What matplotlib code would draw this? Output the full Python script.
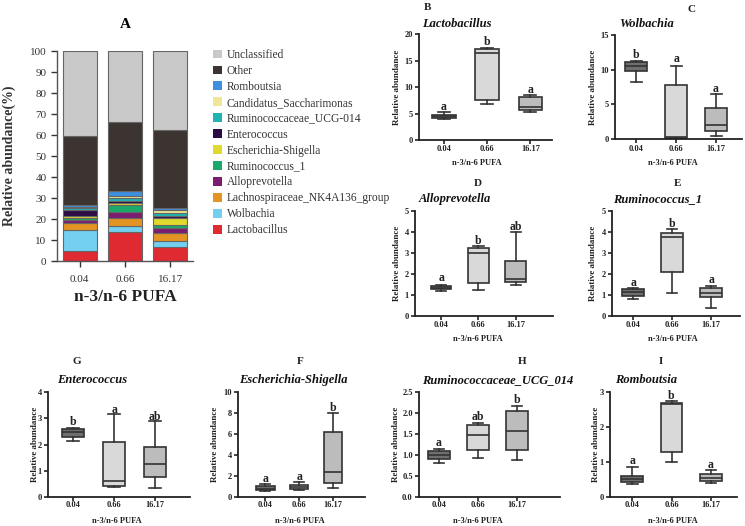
import matplotlib
matplotlib.use('Agg')
import matplotlib.pyplot as plt
from matplotlib.patches import Patch

plt.rcParams['font.family'] = ['Liberation Serif', 'DejaVu Serif']

W, H = 745, 526
fig = plt.figure(figsize=(W / 100, H / 100), dpi=100)

# ---------------- Panel A data (relative abundance, %) ----------------
groups = ['0.04', '0.66', '16.17']
lactobacillus = [4.8, 14.0, 6.8]
wolbachia = [10.0, 2.7, 2.7]
lachnospiraceae = [3.4, 3.9, 4.0]
alloprevotella = [1.4, 2.9, 2.4]
ruminococcus_1 = [1.0, 3.2, 1.2]
escherichia = [0.7, 0.9, 3.2]
enterococcus = [3.0, 1.1, 1.3]
ruminococcaceae_ucg = [0.8, 1.5, 1.4]
candidatus = [0.8, 0.9, 1.3]
romboutsia = [0.6, 2.2, 0.8]
other = [32.8, 32.7, 37.4]
unclassified = [40.7, 34.0, 37.5]

taxa_names = ['Lactobacillus', 'Wolbachia', 'Lachnospiraceae_NK4A136_group',
              'Alloprevotella', 'Ruminococcus_1', 'Escherichia-Shigella',
              'Enterococcus', 'Ruminococcaceae_UCG-014', 'Candidatus_Saccharimonas',
              'Romboutsia', 'Other', 'Unclassified']
taxa_values = [lactobacillus, wolbachia, lachnospiraceae, alloprevotella,
               ruminococcus_1, escherichia, enterococcus, ruminococcaceae_ucg,
               candidatus, romboutsia, other, unclassified]
taxa_colors = ['#e02a32', '#74d0f0', '#e39424', '#7b1c70', '#1aa968', '#e0d92e',
               '#2a0c47', '#1fb3b3', '#efe795', '#3d8fe0', '#3b3431', '#c9c9c9']

# ---------------- Box panel data: whislo, q1, median, q3, whishi ----------------
box_panels = [
    dict(letter='B', title='Lactobacillus', ylim=(0, 20), yticks=[0, 5, 10, 15, 20],
         whislo=[3.9, 6.75, 5.2], q1=[4.2, 7.6, 5.7], med=[4.5, 16.4, 6.3],
         q3=[4.8, 17.15, 8.1], whishi=[5.2, 17.3, 8.5],
         sig=['a', 'b', 'a'], sig_y=[6.2, 18.4, 9.5],
         rect=(419, 552, 34, 140), xlim=(0.42, 3.5),
         letter_xy=(428, 8), title_xy=(457, 24), ylab_x=397, xt_y=149, xl_y=163, xl_x=477),
    dict(letter='C', title='Wolbachia', ylim=(0, 15), yticks=[0, 5, 10, 15],
         whislo=[8.25, 0.05, 0.4], q1=[9.8, 0.12, 1.2], med=[10.55, 0.22, 2.05],
         q3=[11.1, 7.8, 4.45], whishi=[11.3, 10.6, 6.45],
         sig=['b', 'a', 'a'], sig_y=[12.1, 11.5, 7.2],
         rect=(615, 742, 35, 139), xlim=(0.47, 3.65),
         letter_xy=(692, 9), title_xy=(647, 24), ylab_x=593, xt_y=149, xl_y=163, xl_x=673),
    dict(letter='D', title='Alloprevotella', ylim=(0, 5), yticks=[0, 1, 2, 3, 4, 5],
         whislo=[1.17, 1.22, 1.47], q1=[1.27, 1.58, 1.61], med=[1.34, 3.0, 1.77],
         q3=[1.42, 3.26, 2.6], whishi=[1.5, 3.32, 4.0],
         sig=['a', 'b', 'ab'], sig_y=[1.8, 3.58, 4.24],
         rect=(415, 553, 211, 316), xlim=(0.3, 4.0),
         letter_xy=(478, 183), title_xy=(455, 199), ylab_x=397, xt_y=325, xl_y=339, xl_x=478),
    dict(letter='E', title='Ruminococcus_1', ylim=(0, 5), yticks=[0, 1, 2, 3, 4, 5],
         whislo=[0.81, 1.08, 0.37], q1=[0.95, 2.08, 0.9], med=[1.16, 3.78, 1.11],
         q3=[1.27, 3.94, 1.32], whishi=[1.32, 4.16, 1.43],
         sig=['a', 'b', 'a'], sig_y=[1.55, 4.4, 1.7],
         rect=(612, 740, 211, 316), xlim=(0.46, 3.74),
         letter_xy=(678, 183), title_xy=(658, 199), ylab_x=593, xt_y=325, xl_y=339, xl_x=673),
    dict(letter='G', title='Enterococcus', ylim=(0, 4), yticks=[0, 1, 2, 3, 4],
         whislo=[2.13, 0.37, 0.36], q1=[2.3, 0.41, 0.76], med=[2.46, 0.6, 1.27],
         q3=[2.6, 2.1, 1.9], whishi=[2.64, 3.16, 2.88],
         sig=['b', 'a', 'ab'], sig_y=[2.86, 3.33, 3.05],
         rect=(48, 190, 392, 497), xlim=(0.39, 3.85),
         letter_xy=(77, 362), title_xy=(92, 380), ylab_x=35, xt_y=505, xl_y=521, xl_x=117),
    dict(letter='F', title='Escherichia-Shigella', ylim=(0, 10), yticks=[0, 2, 4, 6, 8, 10],
         whislo=[0.57, 0.64, 0.86], q1=[0.64, 0.76, 1.37], med=[0.8, 0.92, 2.39],
         q3=[1.05, 1.18, 6.18], whishi=[1.24, 1.4, 7.96],
         sig=['a', 'a', 'b'], sig_y=[1.75, 1.9, 8.44],
         rect=(238, 365, 392, 497), xlim=(0.2, 3.94),
         letter_xy=(300, 362), title_xy=(293, 380), ylab_x=215, xt_y=505, xl_y=521, xl_x=300),
    dict(letter='H', title='Ruminococcaceae_UCG_014', ylim=(0, 2.5),
         yticks=[0.0, 0.5, 1.0, 1.5, 2.0, 2.5],
         whislo=[0.82, 0.93, 0.87], q1=[0.91, 1.11, 1.13], med=[1.0, 1.47, 1.57],
         q3=[1.09, 1.72, 2.05], whishi=[1.15, 1.77, 2.17],
         sig=['a', 'ab', 'b'], sig_y=[1.29, 1.9, 2.3],
         rect=(419, 560, 392, 497), xlim=(0.49, 4.1),
         letter_xy=(522, 362), title_xy=(498, 380), ylab_x=396, xt_y=505, xl_y=521, xl_x=478),
    dict(letter='I', title='Romboutsia', ylim=(0, 3), yticks=[0, 1, 2, 3],
         whislo=[0.38, 0.99, 0.4], q1=[0.44, 1.3, 0.45], med=[0.52, 2.66, 0.55],
         q3=[0.6, 2.68, 0.65], whishi=[0.87, 2.74, 0.76],
         sig=['a', 'b', 'a'], sig_y=[1.04, 2.89, 0.9],
         rect=(610, 737, 392, 497), xlim=(0.44, 3.66),
         letter_xy=(661, 362), title_xy=(646, 380), ylab_x=596, xt_y=505, xl_y=521, xl_x=673),
]
box_colors = ['#6f6f6f', '#d9d9d9', '#bcbcbc']


def fx(x):
    return x / W


def fy(y):
    return 1 - y / H


def add_ax(l, r, t, b):
    return fig.add_axes([fx(l), fy(b), (r - l) / W, (b - t) / H])


# ---------------- Panel A ----------------
axA = add_ax(57, 193, 51, 261)
bottom = [0.0, 0.0, 0.0]
xpos = list(range(len(groups)))
for name, vals, col in zip(taxa_names, taxa_values, taxa_colors):
    axA.bar(xpos, vals, width=0.75, bottom=bottom, color=col,
            edgecolor='#666666', linewidth=0.8)
    bottom = [b + v for b, v in zip(bottom, vals)]
axA.set_xlim(-0.5, 2.5)
axA.set_ylim(0, 100)
axA.set_yticks(range(0, 101, 10))
axA.set_xticks(xpos)
axA.set_xticklabels(groups)
for s in ['top', 'right']:
    axA.spines[s].set_visible(False)
for s in ['left', 'bottom']:
    axA.spines[s].set_color('#555555')
    axA.spines[s].set_linewidth(1.0)
axA.tick_params(axis='both', labelsize=8, colors='#333333', length=4, width=1.0,
                direction='out')
axA.tick_params(axis='x', pad=6)
fig.text(fx(125), fy(25), 'A', ha='center', va='center', fontsize=11, fontweight='bold')
fig.text(fx(9), fy(156), 'Relative abundance(%)', rotation=90, ha='center', va='center',
         fontsize=10, fontweight='bold', color='#333333')
fig.text(fx(125), fy(297), 'n-3/n-6 PUFA', ha='center', va='center',
         fontsize=12.5, fontweight='bold', color='#222222')

handles = [Patch(facecolor=c, edgecolor='none') for c in taxa_colors]
labels = list(taxa_names)
leg = fig.legend(handles[::-1], labels[::-1], loc='upper left',
                 bbox_to_anchor=(fx(213), fy(49)), frameon=False, fontsize=8.3,
                 handlelength=0.8, handleheight=0.8, handletextpad=0.4,
                 labelspacing=0.34, borderpad=0, borderaxespad=0)
for t in leg.get_texts():
    t.set_color('#333333')

# ---------------- Box panels ----------------
for p in box_panels:
    l, r, t, b = p['rect']
    ax = add_ax(l, r, t, b)
    stats = []
    for i in range(3):
        stats.append(dict(whislo=p['whislo'][i], q1=p['q1'][i], med=p['med'][i],
                          q3=p['q3'][i], whishi=p['whishi'][i], fliers=[]))
    bp = ax.bxp(stats, positions=[1, 2, 3], widths=0.55, patch_artist=True,
                showfliers=False,
                boxprops=dict(edgecolor='#333333', linewidth=1.2),
                medianprops=dict(color='#333333', linewidth=1.2),
                whiskerprops=dict(color='#333333', linewidth=1.2),
                capprops=dict(color='#333333', linewidth=1.2))
    for patch, c in zip(bp['boxes'], box_colors):
        patch.set_facecolor(c)
    for i in range(3):
        ax.text(i + 1, p['sig_y'][i], p['sig'][i], ha='center', va='center',
                fontsize=8.5, fontweight='bold', color='#222222')
    ax.set_xlim(*p['xlim'])
    ax.set_ylim(*p['ylim'])
    ax.set_yticks(p['yticks'])
    if p['letter'] == 'H':
        ax.set_yticklabels(['%.1f' % v for v in p['yticks']])
    else:
        ax.set_yticklabels(['%g' % v for v in p['yticks']])
    ax.set_xticks([1, 2, 3])
    ax.set_xticklabels([])
    for s in ['top', 'right']:
        ax.spines[s].set_visible(False)
    for s in ['left', 'bottom']:
        ax.spines[s].set_linewidth(1.3)
        ax.spines[s].set_color('#222222')
    ax.tick_params(axis='both', length=3, width=1.2, colors='#222222',
                   labelsize=6, pad=1.5)
    for lab in ax.get_yticklabels():
        lab.set_fontweight('bold')
    for i, g in enumerate(groups):
        xd = ax.transData.transform((i + 1, 0))[0]
        fig.text(xd / fig.bbox.width, fy(p['xt_y']), g, ha='center', va='center',
                 fontsize=6, fontweight='bold', color='#222222')
    fig.text(fx(p['xl_x']), fy(p['xl_y']), 'n-3/n-6 PUFA', ha='center', va='center',
             fontsize=6, fontweight='bold', color='#222222')
    fig.text(fx(p['ylab_x']), fy((t + b) / 2), 'Relative abundance', rotation=90,
             ha='center', va='center', fontsize=6.5, fontweight='bold', color='#222222')
    fig.text(fx(p['letter_xy'][0]), fy(p['letter_xy'][1]), p['letter'], ha='center',
             va='center', fontsize=8, fontweight='bold', color='#222222')
    fig.text(fx(p['title_xy'][0]), fy(p['title_xy'][1]), p['title'], ha='center',
             va='center', fontsize=9, fontweight='bold', style='italic', color='#111111')

fig.savefig('out.png', dpi=100)
